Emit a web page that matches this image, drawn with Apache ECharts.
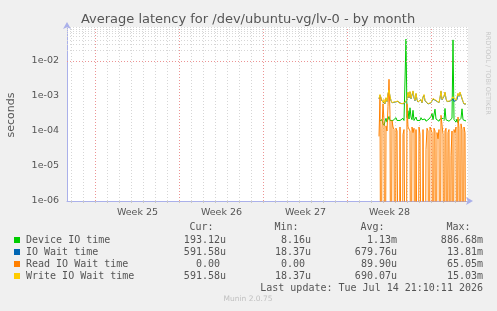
<!DOCTYPE html>
<html>
<head>
<meta charset="utf-8">
<script src="https://cdn.jsdelivr.net/npm/echarts@6/dist/echarts.min.js"></script>
<style>
html,body{margin:0;padding:0;background:#f0f0f0;}
#c{width:497px;height:311px;}
</style>
</head>
<body>
<div id="c"></div>
<script>
// ---- data (seconds), 2-hour averages, first point at day 26.0 of the axis ----
const firstDay = 26.0;
const stepDays = 1 / 12;

const deviceIO = [1.9e-4, 2.0e-4, 1.7e-4, 2.1e-4, 1.6e-4, 1.4e-4, 1.9e-4, 2.3e-4, 1.8e-4, 2.0e-4,
 2.6e-4, 2.0e-4, 1.9e-4, 2.2e-4, 2.0e-4, 1.8e-4, 2.1e-4, 2.4e-4, 2.0e-4, 1.9e-4,
 2.2e-4, 2.0e-4, 2.1e-4, 1.9e-4, 2.3e-4, 2.0e-4, 2.2e-4, 4.2e-2, 2.4e-4, 3.8e-4,
 2.2e-4, 4.6e-4, 2.5e-4, 2.1e-4, 3.9e-4, 2.0e-4, 2.2e-4, 2.5e-4, 2.0e-4, 1.9e-4,
 2.1e-4, 2.0e-4, 2.4e-4, 2.1e-4, 1.9e-4, 2.0e-4, 2.2e-4, 1.9e-4, 2.1e-4, 2.0e-4,
 2.2e-4, 2.0e-4, 2.6e-4, 3.2e-4, 2.1e-4, 2.3e-4, 4.2e-4, 2.2e-4, 2.0e-4, 2.1e-4,
 1.9e-4, 2.2e-4, 2.0e-4, 2.1e-4, 2.3e-4, 2.0e-4, 4.4e-4, 2.1e-4, 2.0e-4, 2.2e-4,
 1.9e-4, 2.1e-4, 2.0e-4, 2.3e-4, 4.0e-2, 2.1e-4, 2.0e-4, 1.8e-4, 2.2e-4, 1.7e-4,
 2.0e-4, 2.1e-4, 2.3e-4, 4.3e-4, 2.1e-4, 2.0e-4, 1.9e-4, 1.93e-4];

const ioWait = [8.2e-4, 1.05e-3, 1.1e-3, 7.2e-4, 6.4e-4, 7.8e-4, 5.9e-4, 8.6e-4, 6.9e-4, 1.15e-3,
 1.45e-3, 9.6e-4, 7.3e-4, 6.4e-4, 6.9e-4, 6.1e-4, 6.7e-4, 5.9e-4, 6.4e-4, 7.0e-4,
 6.2e-4, 6.5e-4, 6.1e-4, 5.9e-4, 6.3e-4, 6.0e-4, 6.4e-4, 6.2e-4, 7.8e-4, 1.25e-3,
 8.8e-4, 1.3e-3, 8.3e-4, 1.05e-3, 1.35e-3, 8.8e-4, 7.3e-4, 1.15e-3, 7.8e-4, 6.7e-4,
 7.3e-4, 6.9e-4, 7.8e-4, 6.4e-4, 9.2e-4, 1.05e-3, 7.3e-4, 7.8e-4, 6.9e-4, 5.9e-4,
 6.1e-4, 5.7e-4, 6.4e-4, 5.9e-4, 8.2e-4, 7.6e-4, 8.7e-4, 7.3e-4, 7.8e-4, 6.9e-4,
 6.4e-4, 8.7e-4, 1.35e-3, 7.8e-4, 7.3e-4, 9.7e-4, 1.25e-3, 8.3e-4, 6.9e-4, 7.3e-4,
 6.7e-4, 7.1e-4, 6.4e-4, 7.8e-4, 8.2e-4, 7.0e-4, 7.6e-4, 7.3e-4, 7.8e-4, 1.15e-3,
 9.7e-4, 1.25e-3, 1.2e-3, 1.35e-3, 6.9e-4, 5.9e-4, 6.1e-4, 5.92e-4];

const readWait = [7e-5, 9e-4, 0, 1.2e-4, 6e-4, 2e-4, 0, 1.4e-4, 1e-4, 5e-4,
 3e-3, 3e-4, 0, 2e-4, 1.3e-4, 1.1e-4, 0, 1.2e-4, 1e-4, 9e-5,
 0, 1.3e-4, 1.2e-4, 0, 8e-5, 1.1e-4, 1.0e-4, 0, 6e-4, 1.3e-4,
 1.2e-4, 1e-4, 0, 1.3e-4, 9e-5, 1.2e-4, 0, 1.1e-4, 1.2e-4, 0,
 1.3e-4, 8e-5, 9e-5, 0, 1.1e-4, 1e-4, 0, 3e-5, 1.2e-4, 1e-4,
 0, 1.3e-4, 1.1e-4, 9e-5, 0, 1.2e-4, 1e-4, 0, 9e-5, 6e-5,
 1.1e-4, 0, 2.8e-4, 1.5e-4, 8e-5, 0, 1e-4, 1.2e-4, 0, 9e-5,
 1.1e-4, 0, 2e-5, 1e-4, 0, 1.1e-4, 9e-5, 1.3e-4, 0, 2.5e-4,
 1.2e-4, 0, 1.6e-4, 1.1e-4, 0, 1.3e-4, 9e-5, 0];

const writeWait = [8.5e-4, 1.1e-3, 1.2e-3, 7.5e-4, 6.5e-4, 8.0e-4, 6.0e-4, 9.0e-4, 7.0e-4, 1.2e-3,
 1.5e-3, 1.0e-3, 7.5e-4, 6.5e-4, 7.0e-4, 6.2e-4, 6.8e-4, 6.0e-4, 6.5e-4, 7.2e-4,
 6.3e-4, 6.6e-4, 6.2e-4, 6.0e-4, 6.4e-4, 6.1e-4, 6.5e-4, 6.3e-4, 8.0e-4, 1.3e-3,
 9.0e-4, 1.35e-3, 8.5e-4, 1.1e-3, 1.4e-3, 9.0e-4, 7.5e-4, 1.2e-3, 8.0e-4, 6.8e-4,
 7.5e-4, 7.0e-4, 8.0e-4, 6.5e-4, 9.5e-4, 1.1e-3, 7.5e-4, 8.0e-4, 7.0e-4, 6.0e-4,
 6.2e-4, 5.8e-4, 6.5e-4, 6.0e-4, 8.5e-4, 7.8e-4, 9.0e-4, 7.5e-4, 8.0e-4, 7.0e-4,
 6.5e-4, 9.0e-4, 1.4e-3, 8.0e-4, 7.5e-4, 1.0e-3, 1.3e-3, 8.5e-4, 7.0e-4, 7.5e-4,
 6.8e-4, 7.2e-4, 6.5e-4, 8.0e-4, 9.5e-4, 8.5e-4, 9.0e-4, 7.5e-4, 8.0e-4, 1.2e-3,
 1.0e-3, 1.3e-3, 1.25e-3, 1.4e-3, 7.0e-4, 6.0e-4, 6.2e-4, 5.92e-4];

const weekLabels = ['Week 25', 'Week 26', 'Week 27', 'Week 28'];
const yTickLabels = ['1e-06', '1e-05', '1e-04', '1e-03', '1e-02'];

const seriesNames = ['Device IO time', 'IO Wait time', 'Read IO Wait time', 'Write IO Wait time'];
const curVals = ['193.12u', '591.58u', '0.00 ', '591.58u'];
const minVals = ['8.16u', '18.37u', '0.00 ', '18.37u'];
const avgVals = ['1.13m', '679.76u', '89.90u', '690.07u'];
const maxVals = ['886.68m', '13.81m', '65.05m', '15.03m'];
const lastUpdate = 'Last update: Tue Jul 14 21:10:11 2026';

// ---- layout / style ----
const colors = ['#00cc00', '#0066b3', '#ff8000', '#ffcc00'];
const gridL = 67, gridT = 27, gridW = 401, gridH = 174;
const xMaxDays = gridW / 12;
const weekStart = 2.375;
const yMin = 1e-6, yMax = 0.0935;
const axisColor = '#aab0ea';
const textColor = '#555';

const toPairs = arr => arr.map((v, i) => [firstDay + i * stepDays, v > 0 ? v : 1e-12]);

// grid lines
const minorX = [], majorX = [];
for (let d = weekStart - 2; d < xMaxDays; d += 1) { if (d > 0.01) minorX.push(d); }
for (let d = weekStart; d < xMaxDays; d += 7) majorX.push(d);
const weekPos = weekLabels.map((_, k) => weekStart + 3.5 + 7 * k);
const minorY = [], majorY = [];
for (let e = -6; e <= -2; e++) {
  majorY.push(Math.pow(10, e));
  for (let m = 2; m <= 9; m++) { const v = m * Math.pow(10, e); if (v < yMax) minorY.push(v); }
}
const minorStyle = { color: '#d6d6d6', width: 1, type: [1, 2] };
const majorStyle = { color: '#ec9494', width: 1, type: [1, 2] };
const gridMarks = []
  .concat(minorY.map(v => ({ yAxis: v, lineStyle: minorStyle })))
  .concat(minorX.filter(d => !majorX.some(m => Math.abs(m - d) < 1e-6)).map(d => ({ xAxis: d, lineStyle: minorStyle })))
  .concat(majorY.map(v => ({ yAxis: v, lineStyle: majorStyle })))
  .concat(majorX.map(d => ({ xAxis: d, lineStyle: majorStyle })));

const chart = echarts.init(document.getElementById('c'), null, { renderer: 'canvas' });

const series = [{
  type: 'line', name: 'grid', data: [], z: 1, silent: true,
  markLine: { silent: true, symbol: ['none', 'none'], label: { show: false }, animation: false, data: gridMarks }
}];
[deviceIO, ioWait, readWait, writeWait].forEach((arr, i) => {
  series.push({
    type: 'line', name: seriesNames[i], data: toPairs(arr), z: 3 + i,
    showSymbol: false, symbol: 'none', clip: true, animation: false,
    lineStyle: { color: colors[i], width: 1 }, itemStyle: { color: colors[i] }
  });
});

const mono = '10px "DejaVu Sans Mono", monospace';
const graphics = [];
function txt(text, x, y, font, fill, align, extra) {
  graphics.push(Object.assign({
    type: 'text', x: x, y: y, silent: true,
    style: { text: text, font: font, fill: fill, align: align, verticalAlign: 'middle', textAlign: align, textVerticalAlign: 'middle' }
  }, extra || {}));
}
txt('Average latency for /dev/ubuntu-vg/lv-0 - by month', 248, 19.5, '13px "DejaVu Sans", sans-serif', textColor, 'center');
txt('seconds', 11, 115, '11px "DejaVu Sans", sans-serif', textColor, 'center', { rotation: Math.PI / 2 });
txt('RRDTOOL / TOBI OETIKER', 488, 73, '6.5px "DejaVu Sans", sans-serif', '#c8c8c8', 'center', { rotation: -Math.PI / 2 });

const colRight = [226, 311, 397, 483];
const headers = ['Cur:', 'Min:', 'Avg:', 'Max:'];
headers.forEach((h, k) => txt(h, colRight[k] - 12.5, 227.5, mono, textColor, 'right'));
const rowY = [240, 252, 264, 276];
seriesNames.forEach((n, i) => {
  graphics.push({ type: 'rect', silent: true, shape: { x: 14, y: rowY[i] - 3, width: 6, height: 6 }, style: { fill: colors[i] } });
  txt(n, 26, rowY[i], mono, textColor, 'left');
  [curVals, minVals, avgVals, maxVals].forEach((col, k) => txt(col[i], colRight[k], rowY[i], mono, textColor, 'right'));
});
txt(lastUpdate, 483, 288, mono, textColor, 'right');
txt('Munin 2.0.75', 248, 299.5, '7.5px "DejaVu Sans", sans-serif', '#c0c0c0', 'center');

chart.setOption({
  backgroundColor: '#f0f0f0',
  animation: false,
  grid: { left: gridL, top: gridT, width: gridW, height: gridH, show: true, backgroundColor: '#ffffff', borderWidth: 0 },
  xAxis: {
    type: 'value', min: 0, max: xMaxDays,
    axisLine: { show: true, onZero: false, lineStyle: { color: axisColor, width: 1 }, symbol: ['none', 'arrow'], symbolSize: [6, 7], symbolOffset: [0, 5] },
    axisTick: { show: true, customValues: minorX, length: 2, inside: false, lineStyle: { color: '#c8c8c8' } },
    axisLabel: {
      customValues: weekPos, margin: 7,
      formatter: v => weekLabels[Math.round((v - weekStart - 3.5) / 7)] || '',
      color: textColor, fontSize: 9.5, fontFamily: '"DejaVu Sans", sans-serif'
    },
    splitLine: { show: false }
  },
  yAxis: {
    type: 'log', logBase: 10, min: yMin, max: yMax,
    axisLine: { show: true, lineStyle: { color: axisColor, width: 1 }, symbol: ['none', 'arrow'], symbolSize: [6, 7], symbolOffset: [0, 5] },
    axisTick: { show: false },
    axisLabel: {
      showMaxLabel: false, margin: 8, color: textColor, fontSize: 9.5, fontFamily: '"DejaVu Sans", sans-serif',
      formatter: v => {
        const e = Math.log10(v), r = Math.round(e);
        if (Math.abs(e - r) > 1e-6) return '';
        return yTickLabels[r + 6] || '';
      }
    },
    splitLine: { show: false }
  },
  graphic: graphics,
  series: series
});
</script>
</body>
</html>
